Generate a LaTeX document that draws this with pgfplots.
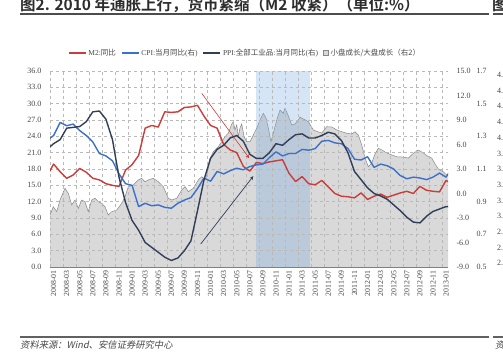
\documentclass[border=0pt]{standalone}
\usepackage{pgfplots}
\pgfplotsset{compat=1.18}
\usetikzlibrary{arrows.meta}
\usepackage{fontspec}
\setmainfont{Liberation Serif}
\newfontfamily\cjk{Noto Sans CJK SC}
\newfontfamily\cjkb{Noto Sans CJK SC Bold}
\newfontfamily\cjkit{Noto Sans CJK SC}[FakeSlant=0.2]
\definecolor{m2red}{RGB}{200,62,58}
\definecolor{cpiblue}{RGB}{60,112,205}
\definecolor{ppinavy}{RGB}{48,62,88}
\definecolor{areagray}{RGB}{217,217,217}
\definecolor{edgegray}{RGB}{135,135,135}
\definecolor{gridgray}{RGB}{185,185,185}
\definecolor{bandblue}{RGB}{120,170,225}
\definecolor{labgray}{RGB}{70,70,70}
\definecolor{titlegray}{RGB}{45,45,45}
\pgfplotsset{
  base/.style={scale only axis, width=398pt, height=196pt, at={(50pt,86pt)}, anchor=south west,
    xmin=-0.55, xmax=60.3,
    ticklabel style={font=\fontsize{8}{9}\selectfont, text=labgray},
    /pgf/number format/assume math mode=true,
    yticklabel style={/pgf/number format/fixed,/pgf/number format/fixed zerofill,/pgf/number format/precision=1},
    major tick length=0pt, minor tick length=0pt},
}
\begin{document}
\begin{tikzpicture}[x=1pt,y=1pt]
\useasboundingbox (0,0) rectangle (503,353);
% third axis: small cap growth / large cap growth
\begin{axis}[base, ymin=0.5, ymax=1.7, ytick={0.5,0.7,0.9,1.1,1.3,1.5,1.7},
  axis y line*=right, hide x axis, y axis line style={draw=none},
  yticklabel style={xshift=25pt}]
\addplot[fill=areagray, draw=none] coordinates {
(-0.55,0.818)(-0.05,0.869)(0.48,0.839)(0.98,0.910)(1.74,0.982)(2.25,0.951)(2.77,0.880)(3.27,0.910)
(3.78,0.859)(4.30,0.910)(4.80,0.900)(5.30,0.839)(5.83,0.910)(6.33,0.921)(6.83,0.900)(7.36,0.890)
(7.86,0.869)(8.36,0.818)(8.89,0.839)(9.65,0.849)(10.42,0.890)(10.92,0.930)(11.42,0.992)(12.19,1.002)
(12.95,1.033)(13.47,1.043)(13.98,1.022)(14.48,1.033)(15.24,1.043)(16.01,1.022)(16.77,0.992)(17.54,0.921)
(18.06,0.910)(18.83,0.921)(19.59,0.971)(20.09,0.992)(20.60,0.961)(21.36,0.982)(22.13,1.033)(22.65,1.053)
(23.15,1.033)(23.41,1.063)(23.92,1.166)(24.42,1.206)(25.18,1.237)(25.71,1.267)(26.21,1.298)(26.71,1.319)
(27.24,1.376)(27.48,1.390)(27.74,1.339)(28.00,1.369)(28.24,1.298)(28.50,1.351)(28.76,1.376)(29.12,1.298)
(29.53,1.267)(30.03,1.267)(30.54,1.308)(31.06,1.351)(31.56,1.400)(32.06,1.441)(32.48,1.412)(32.83,1.351)
(33.24,1.267)(33.59,1.319)(34.12,1.400)(34.62,1.461)(35.12,1.441)(35.38,1.472)(35.89,1.425)(36.41,1.369)
(36.91,1.376)(37.42,1.400)(37.68,1.418)(38.18,1.406)(38.95,1.390)(39.71,1.339)(40.47,1.327)(41.00,1.320)
(41.76,1.359)(42.53,1.357)(43.29,1.339)(44.06,1.328)(44.82,1.319)(45.59,1.314)(46.09,1.328)(46.59,1.308)
(47.11,1.247)(47.62,1.166)(48.12,1.114)(48.64,1.137)(49.15,1.192)(49.65,1.227)(50.21,1.216)(50.94,1.198)
(51.70,1.186)(52.47,1.175)(53.43,1.173)(54.24,1.167)(55.00,1.196)(55.77,1.216)(56.53,1.198)(57.30,1.175)
(57.82,1.167)(58.32,1.131)(58.82,1.100)(59.59,1.082)(60.11,1.063)(60.31,1.069)} \closedcycle;
\addplot[edgegray, line width=0.5pt] coordinates {
(-0.55,0.818)(-0.05,0.869)(0.48,0.839)(0.98,0.910)(1.74,0.982)(2.25,0.951)(2.77,0.880)(3.27,0.910)
(3.78,0.859)(4.30,0.910)(4.80,0.900)(5.30,0.839)(5.83,0.910)(6.33,0.921)(6.83,0.900)(7.36,0.890)
(7.86,0.869)(8.36,0.818)(8.89,0.839)(9.65,0.849)(10.42,0.890)(10.92,0.930)(11.42,0.992)(12.19,1.002)
(12.95,1.033)(13.47,1.043)(13.98,1.022)(14.48,1.033)(15.24,1.043)(16.01,1.022)(16.77,0.992)(17.54,0.921)
(18.06,0.910)(18.83,0.921)(19.59,0.971)(20.09,0.992)(20.60,0.961)(21.36,0.982)(22.13,1.033)(22.65,1.053)
(23.15,1.033)(23.41,1.063)(23.92,1.166)(24.42,1.206)(25.18,1.237)(25.71,1.267)(26.21,1.298)(26.71,1.319)
(27.24,1.376)(27.48,1.390)(27.74,1.339)(28.00,1.369)(28.24,1.298)(28.50,1.351)(28.76,1.376)(29.12,1.298)
(29.53,1.267)(30.03,1.267)(30.54,1.308)(31.06,1.351)(31.56,1.400)(32.06,1.441)(32.48,1.412)(32.83,1.351)
(33.24,1.267)(33.59,1.319)(34.12,1.400)(34.62,1.461)(35.12,1.441)(35.38,1.472)(35.89,1.425)(36.41,1.369)
(36.91,1.376)(37.42,1.400)(37.68,1.418)(38.18,1.406)(38.95,1.390)(39.71,1.339)(40.47,1.327)(41.00,1.320)
(41.76,1.359)(42.53,1.357)(43.29,1.339)(44.06,1.328)(44.82,1.319)(45.59,1.314)(46.09,1.328)(46.59,1.308)
(47.11,1.247)(47.62,1.166)(48.12,1.114)(48.64,1.137)(49.15,1.192)(49.65,1.227)(50.21,1.216)(50.94,1.198)
(51.70,1.186)(52.47,1.175)(53.43,1.173)(54.24,1.167)(55.00,1.196)(55.77,1.216)(56.53,1.198)(57.30,1.175)
(57.82,1.167)(58.32,1.131)(58.82,1.100)(59.59,1.082)(60.11,1.063)(60.31,1.069)};
\fill[bandblue, fill opacity=0.3] (axis cs:30.9,0.5) rectangle (axis cs:39.2,1.7);
\end{axis}
% left axis: M2
\begin{axis}[base, ymin=0, ymax=36, ytick={0,3,...,36},
  axis x line*=bottom, axis y line*=left, y axis line style={draw=none},
  x axis line style={draw=gray, line width=0.9pt},
  yticklabel style={xshift=-5pt},
  xtick={0,2,...,60},
  xticklabels={2008-01,2008-03,2008-05,2008-07,2008-09,2008-11,2009-01,2009-03,2009-05,2009-07,2009-09,2009-11,2010-01,2010-03,2010-05,2010-07,2010-09,2010-11,2011-01,2011-03,2011-05,2011-07,2011-09,2011-11,2012-01,2012-03,2012-05,2012-07,2012-09,2012-11,2013-01},
  xticklabel style={rotate=90, anchor=east, font=\fontsize{7.8}{8}\selectfont},
  minor xtick={-0.55,1.45,...,59.5},
  ymajorgrids, xminorgrids,
  major grid style={gridgray, dashed, line width=0.5pt},
  minor grid style={gridgray, dashed, line width=0.5pt}]
\addplot[m2red, line width=1.4pt, line join=round] coordinates {
(-1,16.7)(0,18.9)(1,17.5)(2,16.3)(3,16.9)(4,18.1)(5,17.4)(6,16.3)(7,16.0)(8,15.3)(9,15.0)(10,14.8)(11,17.8)
(12,18.8)(13,20.5)(14,25.5)(15,26.0)(16,25.7)(17,28.5)(18,28.4)(19,28.5)(20,29.3)(21,29.4)(22,29.7)(23,27.7)
(24,26.0)(25,25.5)(26,22.5)(27,21.5)(28,21.0)(29,18.5)(30,17.6)(31,19.2)(32,19.0)(33,19.3)(34,19.5)(35,19.7)
(36,17.2)(37,15.7)(38,16.6)(39,15.3)(40,15.1)(41,15.9)(42,14.7)(43,13.5)(44,13.0)(45,12.9)(46,12.7)(47,13.6)
(48,12.4)(49,13.0)(50,13.4)(51,12.8)(52,13.2)(53,13.6)(54,13.9)(55,13.5)(56,14.8)(57,14.1)(58,13.9)(59,13.8)
(60,15.9)(61,15.2)};
\draw[m2red, line width=0.6pt, -{Stealth[length=4pt,width=3.5pt]}] (axis cs:22.65,31.9) -- (axis cs:29.92,19.97);
\draw[ppinavy, line width=0.7pt, -{Stealth[length=4pt,width=3.5pt]}] (axis cs:22.49,4.22) -- (axis cs:30.54,16.7);
\end{axis}
% right axis: CPI, PPI
\begin{axis}[base, ymin=-9, ymax=15, ytick={-9,-6,...,15},
  axis y line*=right, hide x axis, y axis line style={draw=none},
  yticklabel style={xshift=5pt},
  legend columns=4,
  legend style={draw=none, fill=none, at={(0.49,1.092)}, anchor=center,
    font=\fontsize{7.5}{8}\selectfont, text=labgray,
    /tikz/every even column/.append style={column sep=3pt}},
  legend cell align=left]
\addlegendimage{m2red, line width=1.4pt}
\addlegendentry{M2:{\cjk 同比}}
\addplot[cpiblue, line width=1.4pt, line join=round] coordinates {
(-1,6.5)(0,7.1)(1,8.7)(2,8.3)(3,8.5)(4,7.7)(5,7.1)(6,6.3)(7,4.9)(8,4.6)(9,4.0)(10,2.4)(11,1.2)
(12,1.0)(13,-1.6)(14,-1.2)(15,-1.5)(16,-1.4)(17,-1.7)(18,-1.8)(19,-1.2)(20,-0.8)(21,-0.5)(22,0.6)(23,1.9)
(24,1.5)(25,2.7)(26,2.4)(27,2.8)(28,3.1)(29,2.9)(30,3.3)(31,3.5)(32,3.6)(33,4.4)(34,5.1)(35,4.6)
(36,4.9)(37,4.9)(38,5.4)(39,5.3)(40,5.5)(41,6.4)(42,6.5)(43,6.2)(44,6.1)(45,5.5)(46,4.2)(47,4.1)
(48,4.5)(49,3.2)(50,3.6)(51,3.4)(52,3.0)(53,2.2)(54,1.8)(55,2.0)(56,1.9)(57,1.7)(58,2.0)(59,2.5)
(60,2.0)(61,3.2)};
\addlegendentry{CPI:{\cjk 当月同比}({\cjk 右})}
\addplot[ppinavy, line width=1.4pt, line join=round] coordinates {
(-1,5.4)(0,6.1)(1,6.6)(2,8.0)(3,8.1)(4,8.2)(5,8.8)(6,10.0)(7,10.1)(8,9.1)(9,6.6)(10,2.0)(11,-1.1)
(12,-3.3)(13,-4.5)(14,-6.0)(15,-6.6)(16,-7.2)(17,-7.8)(18,-8.2)(19,-7.9)(20,-7.0)(21,-5.8)(22,-2.1)(23,1.7)
(24,4.3)(25,5.4)(26,5.9)(27,6.8)(28,7.1)(29,6.4)(30,4.8)(31,4.3)(32,4.3)(33,5.0)(34,6.1)(35,5.9)
(36,6.6)(37,7.2)(38,7.3)(39,6.8)(40,6.8)(41,7.1)(42,7.5)(43,7.3)(44,6.5)(45,5.0)(46,2.7)(47,1.7)
(48,0.7)(49,0.0)(50,-0.3)(51,-0.7)(52,-1.4)(53,-2.1)(54,-2.9)(55,-3.5)(56,-3.6)(57,-2.8)(58,-2.2)(59,-1.9)
(60,-1.6)(61,-1.6)};
\addlegendentry{PPI:{\cjk 全部工业品}:{\cjk 当月同比}({\cjk 右})\hspace{14pt}}
\addlegendimage{legend image code/.code={\draw[fill=areagray, draw=edgegray, line width=0.5pt] (0.38cm,-2.5pt) rectangle ++(5pt,5pt);}}
\addlegendentry{{\cjk 小盘成长/大盘成长（右2）}}
\end{axis}
% title and frame texts
\node[anchor=base west, inner sep=0, font=\cjkb\fontsize{15.5}{16}\selectfont, text=titlegray] at (20,342.5) {图2. 2010 年通胀上行，货币紧缩（M2 收紧）（单位:\%）};
\node[anchor=base west, inner sep=0, font=\cjkb\fontsize{15.5}{16}\selectfont, text=titlegray] at (492,342.5) {图3};
\draw[line width=1.8pt, titlegray!85] (20,339) -- (489,339);
\draw[line width=1.8pt, titlegray!85] (493,339) -- (503,339);
\draw[line width=1.5pt, titlegray!75] (20,16) -- (489,16);
\draw[line width=1.5pt, titlegray!75] (493,16) -- (503,16);
\node[anchor=base west, inner sep=0, font=\cjkit\fontsize{9.3}{10}\selectfont, text=labgray] at (20,4) {资料来源：Wind、安信证券研究中心};
\node[anchor=base west, inner sep=0, font=\cjkit\fontsize{9.3}{10}\selectfont, text=labgray] at (495,4) {资料};
\foreach \k/\t in {0/4.8,1/4.6,2/4.4,3/4.2,4/4.0,5/3.8,6/3.6,7/3.4,8/3.2,9/3.0,10/2.8,11/2.6,12/2.4}
  \node[anchor=west, inner sep=0, font=\fontsize{8}{9}\selectfont, text=labgray] at (497,278-15.69*\k) {\t};
\end{tikzpicture}
\end{document}
